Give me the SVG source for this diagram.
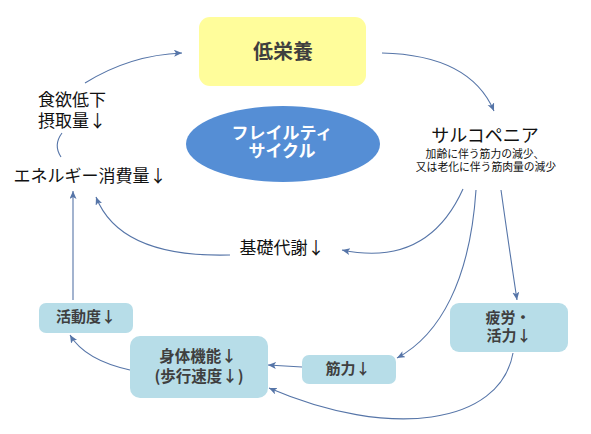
<svg xmlns="http://www.w3.org/2000/svg" width="591" height="434" viewBox="0 0 591 434">
<style>
.t{font-family:"Noto Sans CJK JP","Noto Sans",sans-serif;fill:#111;text-anchor:middle}
.b{font-family:"Noto Sans CJK JP","Noto Sans",sans-serif;font-weight:bold;fill:#3F3F3F;text-anchor:middle}
.w{font-family:"Noto Sans CJK JP","Noto Sans",sans-serif;font-weight:bold;fill:#fff;text-anchor:middle}
.box{fill:#B7DDE8}
.c{fill:none;stroke:#5675A8;stroke-width:1.1}
</style>
<defs>
<marker id="ar" markerUnits="userSpaceOnUse" markerWidth="9" markerHeight="8" refX="8" refY="3.5" orient="auto">
<path d="M0,0 L8,3.5 L0,7 L2,3.5 z" fill="#5675A8"/>
</marker>
</defs>
<rect width="591" height="434" fill="#fff"/>
<g id="connectors">
<path class="c" d="M85,83 Q130,55 182,53" marker-end="url(#ar)"/>
<path class="c" d="M382,53 Q470,55 494,111" marker-end="url(#ar)"/>
<path class="c" d="M62,133 Q53,145 61,157"/>
<path class="c" d="M73,300 L73,191" marker-end="url(#ar)"/>
<path class="c" d="M230,255 Q120,258 96,197" marker-end="url(#ar)"/>
<path class="c" d="M463,189 C440,240 400,262 342,250" marker-end="url(#ar)"/>
<path class="c" d="M476,190 C470,280 440,335 397,358" marker-end="url(#ar)"/>
<path class="c" d="M501,190 Q508,240 517,300" marker-end="url(#ar)"/>
<path class="c" d="M302,367 L268,365" marker-end="url(#ar)"/>
<path class="c" d="M513,353 C500,425 390,440 269,388" marker-end="url(#ar)"/>
<path class="c" d="M130,370 Q85,360 70,335" marker-end="url(#ar)"/>
</g>
<g id="node-teieiyo">
<rect x="199" y="17" width="167" height="69" rx="11" fill="#FFFD9B"/>
<text class="b" x="283" y="58.5" font-size="20">低栄養</text>
</g>
<g id="node-frailty">
<ellipse cx="283" cy="144" rx="97" ry="38" fill="#558ED5"/>
<text class="w" x="282" y="139" font-size="17">フレイルティ</text>
<text class="w" x="282" y="157" font-size="17">サイクル</text>
</g>
<g id="node-shokuyoku">
<text class="t" x="72" y="106" font-size="17">食欲低下</text>
<text class="t" x="72" y="127" font-size="17">摂取量↓</text>
</g>
<g id="node-energy">
<text class="t" x="90" y="182" font-size="17">エネルギー消費量↓</text>
</g>
<g id="node-sarco">
<text class="t" x="485" y="142" font-size="18">サルコペニア</text>
<text class="t" x="485" y="158" font-size="10.8">加齢に伴う筋力の減少、</text>
<text class="t" x="486" y="171" font-size="10.8">又は老化に伴う筋肉量の減少</text>
</g>
<g id="node-kiso">
<text class="t" x="282" y="254" font-size="17">基礎代謝↓</text>
</g>
<g id="node-katsudo">
<rect class="box" x="39" y="303" width="94" height="30" rx="7"/>
<text class="b" x="86" y="322" font-size="15">活動度↓</text>
</g>
<g id="node-shintai">
<rect class="box" x="130" y="336" width="138" height="62" rx="10"/>
<text class="b" x="198" y="362" font-size="15.5">身体機能↓</text>
<text class="b" x="199" y="382" font-size="15.5">(歩行速度↓)</text>
</g>
<g id="node-kinryoku">
<rect class="box" x="302" y="355" width="94" height="29" rx="7"/>
<text class="b" x="348" y="374" font-size="15">筋力↓</text>
</g>
<g id="node-hirou">
<rect class="box" x="450" y="303" width="118" height="49" rx="9"/>
<text class="b" x="508" y="323" font-size="15">疲労・</text>
<text class="b" x="509" y="341" font-size="15">活力↓</text>
</g>
</svg>
